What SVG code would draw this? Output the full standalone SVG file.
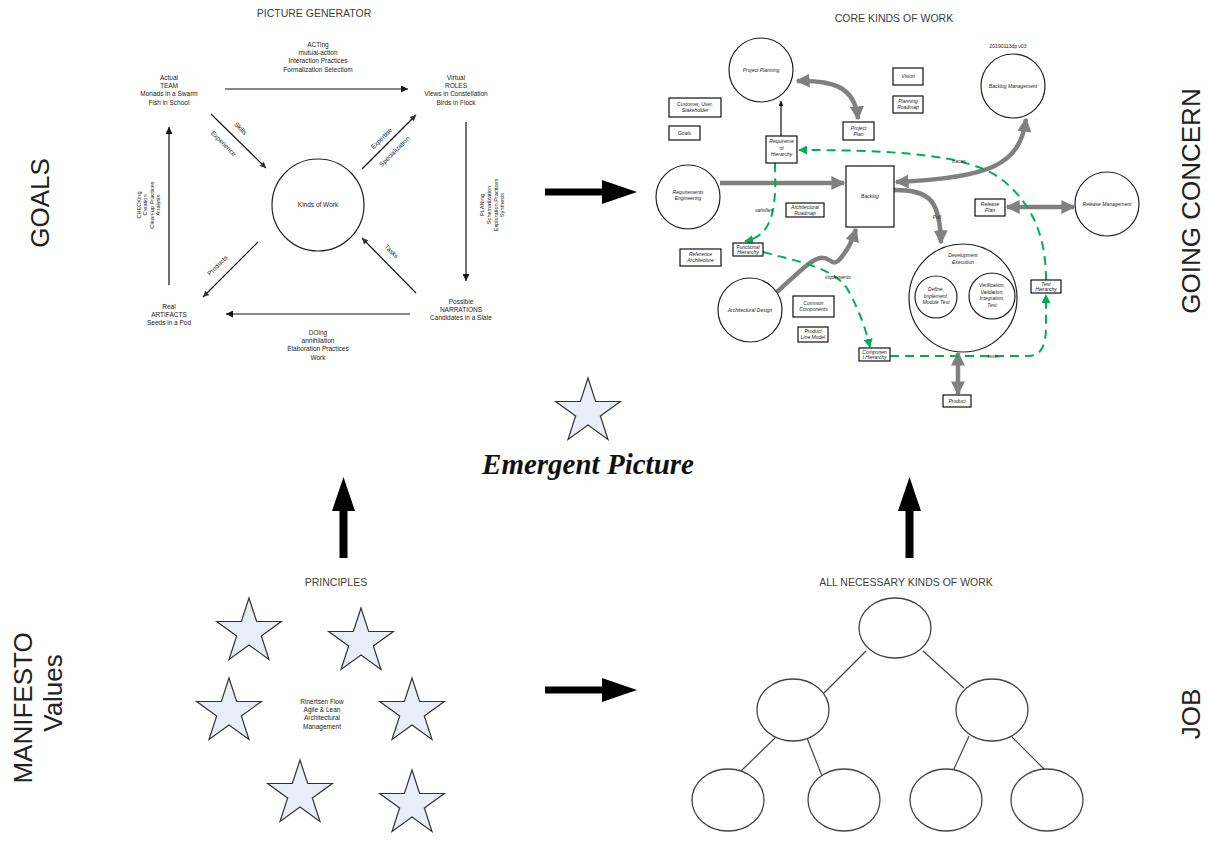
<svg xmlns="http://www.w3.org/2000/svg" width="1209" height="845" viewBox="0 0 1209 845">
<style>
.t{font-family:"Liberation Sans",Arial,sans-serif;fill:#222;text-anchor:middle}
.s{font-size:6.5px}
.r{font-size:5.6px}
.i{font-size:5px;font-style:italic}
.ttl{font-size:10.5px;fill:#404040}
.big{font-family:"Liberation Sans",Arial,sans-serif;font-size:26px;fill:#222;text-anchor:middle}
.thin{stroke:#111;stroke-width:1.2;fill:none}
.grey{stroke:#808080;stroke-width:4.5;fill:none}
.green{stroke:#00b050;stroke-width:2;fill:none;stroke-dasharray:9 6}
.box{fill:#fff;stroke:#111;stroke-width:1.2}
.circ{fill:#fff;stroke:#222;stroke-width:1.2}
.ell{fill:#fff;stroke:#444;stroke-width:1.3}
.star{fill:#e8edf7;stroke:#333;stroke-width:1.2}
.blk{fill:#000}
</style>
<defs>
<marker id="aB" markerUnits="userSpaceOnUse" viewBox="0 0 10 10" refX="10" refY="5" markerWidth="8" markerHeight="7" orient="auto"><path d="M0,0 L10,5 L0,10 z" fill="#111"/></marker>
<marker id="aD" markerUnits="userSpaceOnUse" viewBox="0 0 10 10" refX="10" refY="5" markerWidth="7" markerHeight="6" orient="auto"><path d="M0,0 L10,5 L0,10 z" fill="#333"/></marker>
<marker id="aS" markerUnits="userSpaceOnUse" viewBox="0 0 10 10" refX="10" refY="5" markerWidth="5" markerHeight="5" orient="auto"><path d="M0,0 L10,5 L0,10 z" fill="#111"/></marker>
<marker id="aG" markerUnits="userSpaceOnUse" viewBox="0 0 10 10" refX="9" refY="5" markerWidth="14" markerHeight="14" orient="auto-start-reverse"><path d="M0,0 L10,5 L0,10 z" fill="#808080"/></marker>
<marker id="aN" markerUnits="userSpaceOnUse" viewBox="0 0 10 10" refX="9" refY="5" markerWidth="9" markerHeight="9" orient="auto"><path d="M0,0 L10,5 L0,10 z" fill="#00b050"/></marker>
<path id="star" class="star" d="M0,-34 L7.64,-10.52 L32.34,-10.51 L12.36,4.02 L19.98,27.51 L0,13 L-19.98,27.51 L-12.36,4.02 L-32.34,-10.51 L-7.64,-10.52 Z"/>
</defs>
<rect width="1209" height="845" fill="#fff"/>

<!-- side labels -->
<g id="side-labels">
<text class="big" transform="translate(49,203) rotate(-90)">GOALS</text>
<text class="big" font-size="28.5" transform="translate(32,708) rotate(-90)">MANIFESTO</text>
<text class="big" font-size="28.5" transform="translate(62,693) rotate(-90)">Values</text>
<text class="big" font-size="27.5" transform="translate(1200,201) rotate(-90)">GOING CONCERN</text>
<text class="big" transform="translate(1200,714) rotate(-90)">JOB</text>
</g>

<!-- PICTURE GENERATOR -->
<g id="picture-generator">
<text class="t ttl" x="314" y="17">PICTURE GENERATOR</text>
<g id="pg-kinds"><circle class="circ" cx="318" cy="205" r="46"/><text class="t s" x="318" y="207">Kinds of Work</text></g>
<g id="pg-team"><text class="t s" x="169" y="80"><tspan x="169">Actual</tspan><tspan x="169" dy="8.2">TEAM</tspan><tspan x="169" dy="8.2">Monads in a Swarm</tspan><tspan x="169" dy="8.2">Fish in School</tspan></text></g>
<g id="pg-roles"><text class="t s" x="456" y="80"><tspan x="456">Virtual</tspan><tspan x="456" dy="8.2">ROLES</tspan><tspan x="456" dy="8.2">Views in Constellation</tspan><tspan x="456" dy="8.2">Birds in Flock</tspan></text></g>
<g id="pg-artifacts"><text class="t s" x="169" y="309"><tspan x="169">Real</tspan><tspan x="169" dy="8.2">ARTIFACTS</tspan><tspan x="169" dy="8.2">Seeds in a Pod</tspan></text></g>
<g id="pg-narrations"><text class="t s" x="461" y="304"><tspan x="461">Possible</tspan><tspan x="461" dy="8.2">NARRATIONS</tspan><tspan x="461" dy="8.2">Candidates in a Slate</tspan></text></g>
<text class="t s" x="318" y="47"><tspan x="318">ACTing</tspan><tspan x="318" dy="8.2">mutual-action</tspan><tspan x="318" dy="8.2">Interaction Practices</tspan><tspan x="318" dy="8.2">Formalization Selectiom</tspan></text>
<text class="t s" x="318" y="335"><tspan x="318">DOing</tspan><tspan x="318" dy="8.2">annihilation</tspan><tspan x="318" dy="8.2">Elaboration Practices</tspan><tspan x="318" dy="8.2">Work</tspan></text>
<text class="t r" transform="translate(141,205) rotate(-90)"><tspan x="0" y="0">CHECKing</tspan><tspan x="0" dy="6.3">Creation</tspan><tspan x="0" dy="6.3">Clean-up Practices</tspan><tspan x="0" dy="6.3">Analysis</tspan></text>
<text class="t r" transform="translate(484,205) rotate(-90)"><tspan x="0" y="0">PLANing</tspan><tspan x="0" dy="6.8">Schematization</tspan><tspan x="0" dy="6.8">Exploration Practices</tspan><tspan x="0" dy="6.8">Synthesis</tspan></text>
<text class="t s" font-size="5.5" transform="translate(239,130) rotate(45)">Skills</text>
<text class="t s" font-size="5.5" transform="translate(222,145) rotate(45)">Experience</text>
<text class="t s" font-size="5.5" transform="translate(383,140) rotate(-45)">Expertise</text>
<text class="t s" font-size="5.5" transform="translate(396,153) rotate(-45)">Specialization</text>
<text class="t s" font-size="5.5" transform="translate(219,267) rotate(-45)">Products</text>
<text class="t s" font-size="5.5" transform="translate(390,253) rotate(45)">Tasks</text>
</g>
<g id="pg-connectors">
<line class="thin" x1="225" y1="89" x2="408" y2="89" marker-end="url(#aB)"/>
<line class="thin" x1="466" y1="122" x2="466" y2="281" marker-end="url(#aB)"/>
<line class="thin" x1="410" y1="314" x2="226" y2="314" marker-end="url(#aB)"/>
<line class="thin" x1="169" y1="285" x2="169" y2="127" marker-end="url(#aB)"/>
<line class="thin" stroke="#444" stroke-width="1" x1="211" y1="114" x2="266" y2="168" marker-end="url(#aD)"/>
<line class="thin" stroke="#444" stroke-width="1" x1="362" y1="169" x2="416" y2="115" marker-end="url(#aD)"/>
<line class="thin" stroke="#444" stroke-width="1" x1="258" y1="242" x2="203" y2="297" marker-end="url(#aD)"/>
<line class="thin" stroke="#444" stroke-width="1" x1="416" y1="293" x2="362" y2="238" marker-end="url(#aD)"/>
</g>

<!-- big black arrows -->
<g id="big-arrows">
<polygon class="blk" points="545,188.5 602,188.5 602,180 637,192 602,204 602,195.5 545,195.5"/>
<polygon class="blk" points="545,686.5 602,686.5 602,678 637,690 602,702 602,693.5 545,693.5"/>
<polygon class="blk" points="339.5,558 339.5,511 332,511 343.5,477 355,511 347.5,511 347.5,558"/>
<polygon class="blk" points="905.5,558 905.5,511 898,511 909.5,477 921,511 913.5,511 913.5,558"/>
</g>

<!-- CORE KINDS OF WORK -->
<g id="core">
<text class="t ttl" x="894" y="22">CORE KINDS OF WORK</text>
<text class="t" font-size="5" x="1008" y="48">20190113dp v03</text>
</g>
<g id="core-connectors">
<line class="thin" x1="781" y1="136" x2="781" y2="101" marker-end="url(#aS)"/>
<path class="grey" d="M797,81 C830,80 855,85 858,119" marker-start="url(#aG)" marker-end="url(#aG)"/>
<line class="grey" x1="720" y1="183" x2="844" y2="183" marker-end="url(#aG)"/>
<path class="grey" d="M1026,119 C1020,165 990,178 896,182" marker-start="url(#aG)" marker-end="url(#aG)"/>
<path class="grey" d="M894,190 C930,190 940,200 941,243" marker-end="url(#aG)"/>
<path class="grey" d="M777,292 C795,276 810,260 820,258 C830,256 831,266 838,261 C846,253 852,242 856,229" marker-end="url(#aG)"/>
<line class="grey" x1="1007" y1="207" x2="1074" y2="207" marker-start="url(#aG)" marker-end="url(#aG)"/>
<line class="grey" x1="958" y1="353" x2="958" y2="394" marker-start="url(#aG)" marker-end="url(#aG)"/>
<path class="green" d="M1046,280 C1046,240 1035,205 1000,178 C970,158 920,150 799,150" marker-end="url(#aN)"/>
<path class="green" d="M775,163 C776,200 776,236 745,241" marker-end="url(#aN)"/>
<path class="green" d="M763,252 C800,262 835,268 848,290 C860,312 866,330 870,347" marker-end="url(#aN)"/>
<path class="green" d="M890,356 L1028,356 C1042,356 1046,345 1046,325 L1046,295" marker-end="url(#aN)"/>
<text class="t i" x="764" y="212">satisfies</text>
<text class="t i" x="838" y="279">implements</text>
<text class="t i" x="959" y="163">traces</text>
<text class="t i" x="993" y="358">tests</text>
<text class="t i" x="937" y="219">Pull</text>
</g>
<g id="n-project-planning"><circle class="circ" cx="761" cy="70" r="32"/><text class="t i" x="761" y="72">Project Planning</text></g>
<g id="n-customer"><rect class="box" x="669" y="98" width="52" height="19"/><text class="t i" x="695" y="106"><tspan x="695">Customer, User,</tspan><tspan x="695" dy="6">Stakeholder</tspan></text></g>
<g id="n-goals"><rect class="box" x="669" y="126" width="31" height="14"/><text class="t i" x="684.5" y="135">Goals</text></g>
<g id="n-req-hier"><rect class="box" x="766" y="136" width="31" height="27"/><text class="t i" x="781.5" y="143"><tspan x="781.5">Requireme</tspan><tspan x="781.5" dy="6.5">nt</tspan><tspan x="781.5" dy="6.5">Hierarchy</tspan></text></g>
<g id="n-project-plan"><rect class="box" x="843" y="122" width="31" height="18"/><text class="t i" x="858.5" y="129.5"><tspan x="858.5">Project</tspan><tspan x="858.5" dy="6">Plan</tspan></text></g>
<g id="n-vision"><rect class="box" x="893" y="68" width="30" height="17"/><text class="t i" x="908" y="78">Vision</text></g>
<g id="n-planning-roadmap"><rect class="box" x="893" y="96" width="30" height="17"/><text class="t i" x="908" y="103"><tspan x="908">Planning</tspan><tspan x="908" dy="6">Roadmap</tspan></text></g>
<g id="n-backlog-mgmt"><circle class="circ" cx="1013" cy="86" r="32"/><text class="t i" x="1013" y="88">Backlog Management</text></g>
<g id="n-req-eng"><circle class="circ" cx="688" cy="197" r="32"/><text class="t i" x="688" y="194"><tspan x="688">Requirements</tspan><tspan x="688" dy="6">Engineering</tspan></text></g>
<g id="n-backlog"><rect class="box" x="846" y="166" width="48" height="61"/><text class="t i" x="870" y="198">Backlog</text></g>
<g id="n-arch-roadmap"><rect class="box" x="786" y="203" width="38" height="14"/><text class="t i" x="805" y="209"><tspan x="805">Architectural</tspan><tspan x="805" dy="5.5">Roadmap</tspan></text></g>
<g id="n-func-hier"><rect class="box" x="733" y="243" width="30" height="13"/><text class="t i" x="748" y="248.5"><tspan x="748">Functional</tspan><tspan x="748" dy="5.5">Hierarchy</tspan></text></g>
<g id="n-ref-arch"><rect class="box" x="680" y="249" width="41" height="17"/><text class="t i" x="700.5" y="256"><tspan x="700.5">Reference</tspan><tspan x="700.5" dy="6">Architecture</tspan></text></g>
<g id="n-release-plan"><rect class="box" x="975" y="199" width="30" height="17"/><text class="t i" x="990" y="206"><tspan x="990">Release</tspan><tspan x="990" dy="6">Plan</tspan></text></g>
<g id="n-release-mgmt"><circle class="circ" cx="1107" cy="204" r="32"/><text class="t i" x="1107" y="206">Release Management</text></g>
<g id="n-dev-exec"><circle class="circ" cx="963" cy="298" r="54"/><text class="t i" x="963" y="257"><tspan x="963">Development</tspan><tspan x="963" dy="6.5">Execution</tspan></text>
<circle class="circ" cx="936" cy="297" r="21"/><text class="t i" x="936" y="291"><tspan x="936">Define,</tspan><tspan x="936" dy="6.5">Implement,</tspan><tspan x="936" dy="6.5">Module Test</tspan></text>
<circle class="circ" cx="992" cy="296" r="23"/><text class="t i" x="992" y="287"><tspan x="992">Verification,</tspan><tspan x="992" dy="6.5">Validation,</tspan><tspan x="992" dy="6.5">Integration,</tspan><tspan x="992" dy="6.5">Test</tspan></text></g>
<g id="n-arch-design"><circle class="circ" cx="750" cy="310" r="32"/><text class="t i" x="750" y="312">Architectural Design</text></g>
<g id="n-common-comp"><rect class="box" x="793" y="296" width="41" height="21"/><text class="t i" x="813.5" y="304.5"><tspan x="813.5">Common</tspan><tspan x="813.5" dy="6.5">Components</tspan></text></g>
<g id="n-product-line"><rect class="box" x="798" y="327" width="30" height="15"/><text class="t i" x="813" y="333"><tspan x="813">Product</tspan><tspan x="813" dy="6">Line Model</tspan></text></g>
<g id="n-comp-hier"><rect class="box" x="859" y="348" width="31" height="13"/><text class="t i" x="874.5" y="353.5"><tspan x="874.5">Componen</tspan><tspan x="874.5" dy="5.5">t Hierarchy</tspan></text></g>
<g id="n-test-hier"><rect class="box" x="1031" y="280" width="30" height="13"/><text class="t i" x="1046" y="285.5"><tspan x="1046">Test</tspan><tspan x="1046" dy="5.5">Hierarchy</tspan></text></g>
<g id="n-product"><rect class="box" x="943" y="395" width="28" height="12"/><text class="t i" x="957" y="403">Product</text></g>

<!-- Emergent picture -->
<g id="emergent">
<use href="#star" x="588" y="412"/>
<text x="588" y="474" font-family="'Liberation Serif','DejaVu Serif',serif" font-size="29" font-style="italic" font-weight="bold" text-anchor="middle" fill="#111">Emergent Picture</text>
</g>

<!-- PRINCIPLES -->
<g id="principles">
<text class="t ttl" x="336" y="586">PRINCIPLES</text>
<use href="#star" x="249" y="632"/>
<use href="#star" x="361" y="642"/>
<use href="#star" x="229" y="712"/>
<use href="#star" x="412" y="712"/>
<use href="#star" x="300" y="794"/>
<use href="#star" x="412" y="804"/>
<text class="t s" x="322" y="704"><tspan x="322">Rinertsen Flow</tspan><tspan x="322" dy="8.2">Agile &amp; Lean</tspan><tspan x="322" dy="8.2">Architectural</tspan><tspan x="322" dy="8.2">Management</tspan></text>
</g>

<!-- ALL NECESSARY KINDS OF WORK -->
<g id="tree">
<text class="t ttl" x="906" y="586">ALL NECESSARY KINDS OF WORK</text>
</g>
<g id="tree-connectors" stroke="#444" stroke-width="1.2">
<line x1="866" y1="651" x2="824" y2="693"/>
<line x1="923" y1="651" x2="964" y2="688"/>
<line x1="775" y1="738" x2="740" y2="772"/>
<line x1="807" y1="738" x2="822" y2="776"/>
<line x1="969" y1="736" x2="953" y2="771"/>
<line x1="1012" y1="737" x2="1045" y2="770"/>
</g>
<g id="t-root"><ellipse class="ell" cx="895" cy="628" rx="36" ry="30"/></g>
<g id="t-l"><ellipse class="ell" cx="793" cy="710" rx="36" ry="31"/></g>
<g id="t-r"><ellipse class="ell" cx="992" cy="710" rx="36" ry="31"/></g>
<g id="t-ll"><ellipse class="ell" cx="728" cy="800" rx="36" ry="31"/></g>
<g id="t-lr"><ellipse class="ell" cx="844" cy="800" rx="36" ry="31"/></g>
<g id="t-rl"><ellipse class="ell" cx="946" cy="800" rx="36" ry="31"/></g>
<g id="t-rr"><ellipse class="ell" cx="1047" cy="800" rx="36" ry="31"/></g>
</svg>
